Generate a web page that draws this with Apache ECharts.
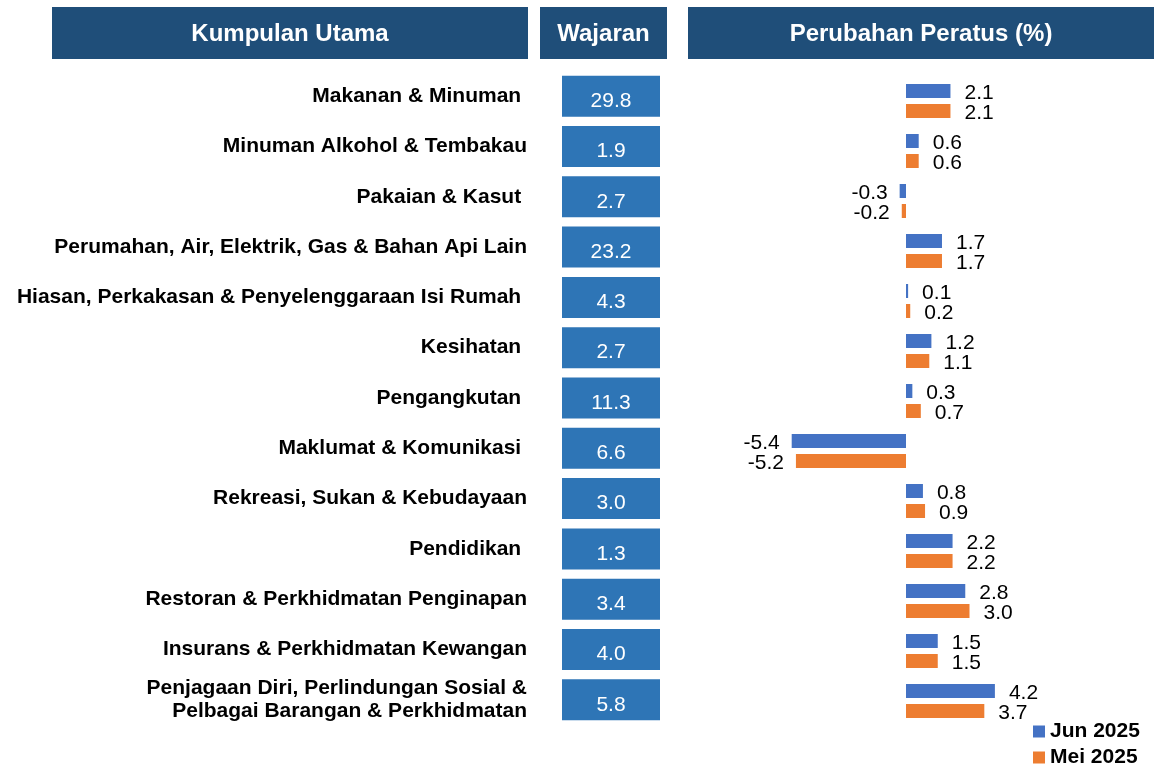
<!DOCTYPE html>
<html lang="ms">
<head>
  <meta charset="UTF-8">
  <title>Perubahan Peratus Kumpulan Utama</title>
  <style>
    html, body { margin: 0; padding: 0; background: #fff; }
    #main { width: 1154px; height: 767px; }
  </style>
</head>
<body>
  <div id="main"></div>
<script src="https://cdn.jsdelivr.net/npm/echarts@6/dist/echarts.min.js"></script>
<script>
// data
var headers = ['Kumpulan Utama', 'Wajaran', 'Perubahan Peratus (%)'];

var categories = [
  'Makanan & Minuman ',
  'Minuman Alkohol & Tembakau',
  'Pakaian & Kasut ',
  'Perumahan, Air, Elektrik, Gas & Bahan Api Lain',
  'Hiasan, Perkakasan & Penyelenggaraan Isi Rumah ',
  'Kesihatan ',
  'Pengangkutan ',
  'Maklumat & Komunikasi ',
  'Rekreasi, Sukan & Kebudayaan',
  'Pendidikan ',
  'Restoran & Perkhidmatan Penginapan',
  'Insurans & Perkhidmatan Kewangan',
  'Penjagaan Diri, Perlindungan Sosial &\nPelbagai Barangan & Perkhidmatan'
];

var weights = [29.8, 1.9, 2.7, 23.2, 4.3, 2.7, 11.3, 6.6, 3.0, 1.3, 3.4, 4.0, 5.8];

var seriesNames = ['Jun 2025', 'Mei 2025'];
var jun2025 = [2.1, 0.6, -0.3, 1.7, 0.1, 1.2, 0.3, -5.4, 0.8, 2.2, 2.8, 1.5, 4.2];
var mei2025 = [2.1, 0.6, -0.2, 1.7, 0.2, 1.1, 0.7, -5.2, 0.9, 2.2, 3.0, 1.5, 3.7];

var FONT = '"Liberation Sans", Arial, sans-serif';
var headBlue = '#1F4E79';
var boxBlue = '#2E75B6';

var myChart = echarts.init(document.getElementById('main'));

// positive labels right of the bar, negative ones left
function barData(arr) {
  return arr.map(function (v) {
    return {
      value: v,
      label: { position: v < 0 ? 'left' : 'right', distance: v < 0 ? 12 : 14 }
    };
  });
}

// header boxes (decoration only)
var headBoxes = [[52, 476], [540, 127], [688, 466]];
var graphics = [];
headBoxes.forEach(function (b, i) {
  graphics.push({
    type: 'rect',
    left: b[0], top: 7,
    shape: { width: b[1], height: 52 },
    style: { fill: headBlue },
    silent: true
  });
  graphics.push({
    type: 'text',
    x: b[0] + b[1] / 2, y: 34,
    style: {
      text: headers[i],
      fill: '#fff',
      font: 'bold 24px ' + FONT,
      align: 'center',
      verticalAlign: 'middle'
    },
    silent: true
  });
});

var option = {
  animation: false,
  textStyle: { fontFamily: FONT },
  graphic: graphics,
  legend: {
    orient: 'vertical',
    left: 1033,
    top: 721,
    width: 120,
    height: 80,
    padding: 0,
    itemWidth: 12,
    itemHeight: 12,
    itemGap: 5,
    icon: 'rect',
    data: seriesNames,
    textStyle: { fontSize: 21, lineHeight: 20, fontWeight: 'bold', color: '#000', fontFamily: FONT }
  },
  grid: [
    { left: 562, width: 98, top: 71, height: 654 },
    { left: 779, width: 254, top: 76, height: 650 }
  ],
  xAxis: [
    { gridIndex: 0, type: 'value', min: -1, max: 1, show: false },
    {
      gridIndex: 1, type: 'value', min: -6, max: 6,
      axisLine: { show: false }, axisTick: { show: false },
      axisLabel: { show: false }, splitLine: { show: false }
    }
  ],
  yAxis: [
    {
      gridIndex: 0, type: 'category', inverse: true, data: categories,
      axisLine: { show: false }, axisTick: { show: false },
      axisLabel: {
        margin: 35,
        fontSize: 21,
        fontWeight: 'bold',
        fontFamily: FONT,
        color: '#000',
        lineHeight: 23,
        padding: [7, 0, 0, 0],
        align: 'right'
      }
    },
    {
      gridIndex: 1, type: 'category', inverse: true, data: categories,
      axisLine: { show: false }, axisTick: { show: false },
      axisLabel: { show: false }
    }
  ],
  series: [
    {
      type: 'scatter',
      xAxisIndex: 0, yAxisIndex: 0,
      symbol: 'rect',
      symbolSize: [98, 41],
      itemStyle: { color: boxBlue, opacity: 1 },
      label: {
        show: true,
        position: 'inside',
        color: '#fff',
        fontSize: 21,
        fontFamily: FONT,
        offset: [0, 5],
        formatter: function (p) { return p.value[2].toFixed(1); }
      },
      data: weights.map(function (w, i) { return [0, i, w]; })
    },
    {
      name: seriesNames[0],
      type: 'bar',
      xAxisIndex: 1, yAxisIndex: 1,
      barWidth: 14,
      barGap: '43%',
      itemStyle: { color: '#4472C4' },
      label: {
        show: true, color: '#000', fontSize: 21, fontFamily: FONT,
        offset: [0, 2],
        formatter: function (p) { return p.value.toFixed(1); }
      },
      data: barData(jun2025)
    },
    {
      name: seriesNames[1],
      type: 'bar',
      xAxisIndex: 1, yAxisIndex: 1,
      barWidth: 14,
      itemStyle: { color: '#ED7D31' },
      label: {
        show: true, color: '#000', fontSize: 21, fontFamily: FONT,
        offset: [0, 2],
        formatter: function (p) { return p.value.toFixed(1); }
      },
      data: barData(mei2025)
    }
  ]
};

myChart.setOption(option);
</script>
</body>
</html>
